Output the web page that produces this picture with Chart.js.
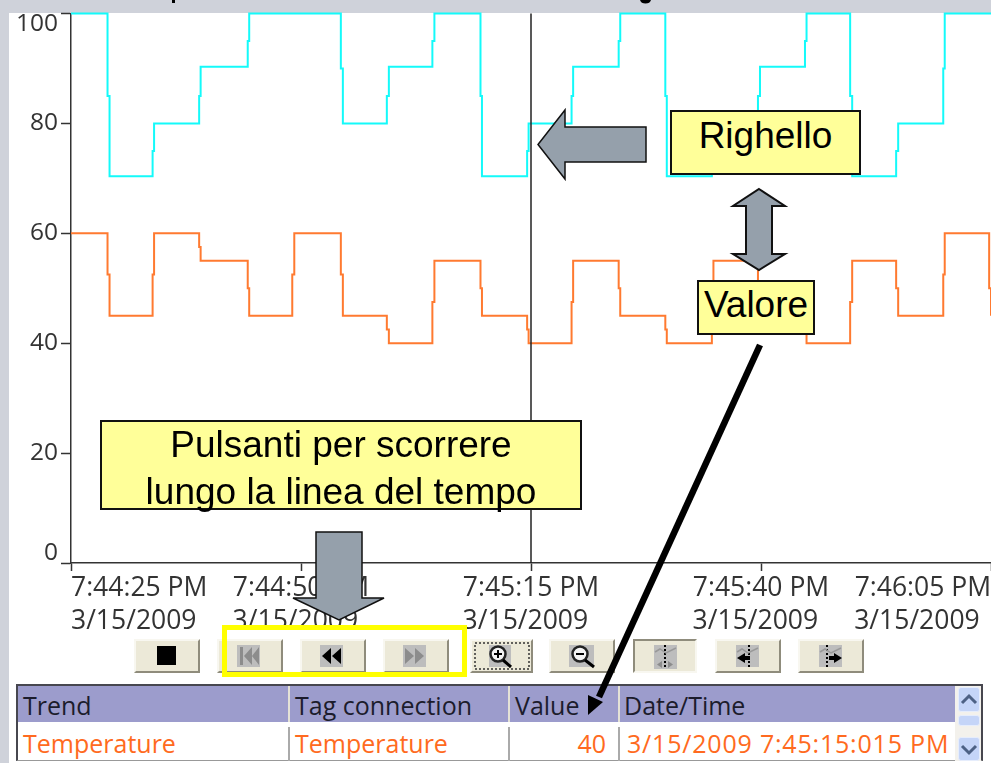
<!DOCTYPE html>
<html>
<head>
<meta charset="utf-8">
<title>Trend</title>
<script src="https://cdn.jsdelivr.net/npm/chart.js@4/dist/chart.umd.js"></script>
<style>
    html, body { margin: 0; padding: 0; }
    body { width: 991px; height: 763px; position: relative; overflow: hidden; background: #cfd2da; font-family: "Open Sans", sans-serif; }
    #panel { position: absolute; left: 9px; top: 13px; right: 0; bottom: 0; background: #fff; }
    #mychart { position: absolute; left: 0; top: 0; }
    .btn { position: absolute; top: 639px; height: 34px; box-sizing: border-box; background: #ece9d8;
           border: 2px solid; border-color: #f8f7f0 #8f8c7c #8f8c7c #f8f7f0; }
    .btn.down { border-color: #8f8c7c #f8f7f0 #f8f7f0 #8f8c7c; }
    #table { position: absolute; left: 16px; top: 684px; width: 967px; height: 77px; box-sizing: border-box;
             border: 2px solid #47474f; border-bottom: 1px solid #999; background: #fff; }
    #head { position: absolute; left: 0; top: 0; width: 937px; height: 36px; background: #9c9ccc; }
    .cell { position: absolute; font-size: 25px; line-height: 36px; white-space: nowrap; color: #1c1c2c; }
    .row { color: #ff6a20; top: 39px; }
    .sep { position: absolute; width: 2px; background: #e4e2d6; top: 0; height: 36px; }
    .sep.low { background: #aaa; top: 41px; height: 34px; }
    #scroll { position: absolute; left: 937px; top: 0; width: 26px; height: 75px; background: #f3f1ec; }
    .sb { position: absolute; left: 3px; width: 22px; background: #c5d5f8; border-radius: 3px; box-sizing: border-box; border: 1px solid #e6edfc; }
    .note { position: absolute; box-sizing: border-box; background: #ffff99; border: 2px solid #111;
            font-family: "Liberation Sans", Arial, sans-serif; font-size: 37px; color: #000; text-align: center; }
    #overlay { position: absolute; left: 0; top: 0; }
</style>
</head>
<body>
<div id="panel"></div>
<canvas id="mychart" width="991" height="763"></canvas>

<div id="table">
    <div id="head"></div>
    <div class="cell" style="left:5px;top:1px">Trend</div>
    <div class="cell" style="left:277px;top:1px">Tag connection</div>
    <div class="cell" style="left:497px;top:1px">Value</div>
    <div class="cell" style="left:606px;top:1px">Date/Time</div>
    <div class="sep" style="left:270px"></div>
    <div class="sep" style="left:490px"></div>
    <div class="sep" style="left:600px"></div>
    <div class="sep low" style="left:270px"></div>
    <div class="sep low" style="left:490px"></div>
    <div class="sep low" style="left:600px"></div>
    <div class="cell row" style="left:5px">Temperature</div>
    <div class="cell row" style="left:277px">Temperature</div>
    <div class="cell row" style="right:375px">40</div>
    <div class="cell row" style="left:609px;letter-spacing:0.8px">3/15/2009 7:45:15:015 PM</div>
    <div id="scroll">
        <div class="sb" style="top:1px;height:25px"></div>
        <div class="sb" style="top:29px;height:11px"></div>
        <div class="sb" style="top:51px;height:24px"></div>
    </div>
</div>

<div class="btn" style="left:134px;width:66px"></div>
<div class="btn" style="left:217px;width:66px"></div>
<div class="btn" style="left:300px;width:66px"></div>
<div class="btn" style="left:383px;width:66px"></div>
<div class="btn" style="left:470px;width:63px"></div>
<div class="btn" style="left:549px;width:66px"></div>
<div class="btn down" style="left:633px;width:64px"></div>
<div class="btn" style="left:715px;width:66px"></div>
<div class="btn" style="left:798px;width:66px"></div>

<svg id="overlay" width="991" height="763" viewBox="0 0 991 763">
    <!-- bits of the slide title cut off at the top -->
    <rect x="172" y="0" width="3" height="3" fill="#000"/>
    <path d="M640 0h11q-1 3.500-5.500 3.500t-5.500-3.500z" fill="#000"/>

    <!-- scroll arrows -->
    <path d="M962 703l7-7 7 7" fill="none" stroke="#4d6185" stroke-width="3"/>
    <path d="M962 746l7 7 7-7" fill="none" stroke="#4d6185" stroke-width="3"/>

    <!-- button icons -->
    <rect x="157" y="646" width="19" height="19" fill="#000"/>
    <rect x="237" y="645" width="23" height="22" fill="#bdbdbd"/>
    <path d="M240 647h3v18h-3zM252 647v18l-8-9zM259 647v18l-7-9z" fill="#8c8c8c"/>
    <rect x="320" y="645" width="23" height="22" fill="#bdbdbd"/>
    <path d="M331 648v16l-9-8zM341 648v16l-9-8z" fill="#000"/>
    <rect x="403" y="645" width="23" height="22" fill="#bdbdbd"/>
    <path d="M405 648v16l9 -8zM415 648v16l9-8z" fill="#8c8c8c"/>
    <rect x="475" y="643" width="54" height="26" fill="none" stroke="#333" stroke-width="1.500" stroke-dasharray="2 2"/>
    <rect x="489" y="645" width="22" height="22" fill="#bdbdbd"/>
    <circle cx="498" cy="654" r="7.500" fill="#f4f4f4" stroke="#222" stroke-width="2.500"/>
    <path d="M494 654h8M498 650v8" stroke="#000" stroke-width="2"/>
    <path d="M503 660l8 7" stroke="#000" stroke-width="3"/>
    <rect x="569" y="645" width="25" height="22" fill="#bdbdbd"/>
    <circle cx="580" cy="654" r="7.500" fill="#f4f4f4" stroke="#222" stroke-width="2.500"/>
    <path d="M576 654h8" stroke="#000" stroke-width="2"/>
    <path d="M585 660l9 7" stroke="#000" stroke-width="3"/>
    <rect x="654" y="645" width="23" height="24" fill="#bdbdbd"/>
    <path d="M665 645v24" stroke="#000" stroke-width="2" stroke-dasharray="2 2"/>
    <path d="M655 652l5-3 6 4 10-5" fill="none" stroke="#999" stroke-width="1.500"/>
    <path d="M662 661v7l-5-3.500zM668 661v7l5-3.500z" fill="#8c8c8c"/>
    <rect x="736" y="645" width="23" height="22" fill="#bdbdbd"/>
    <path d="M749 645v22" stroke="#000" stroke-width="2" stroke-dasharray="2 2"/>
    <path d="M737 652l5-3 6 4 10-5" fill="none" stroke="#999" stroke-width="1.500"/>
    <path d="M737 658l8-5v3h5v4h-5v3z" fill="#000"/>
    <rect x="819" y="645" width="23" height="22" fill="#bdbdbd"/>
    <path d="M827 645v22" stroke="#000" stroke-width="2" stroke-dasharray="2 2"/>
    <path d="M820 652l5-3 6 4 10-5" fill="none" stroke="#999" stroke-width="1.500"/>
    <path d="M842 658l-8-5v3h-5v4h5v3z" fill="#000"/>

    <!-- callout arrows -->
    <path d="M538 144.500L565 110V127H646V162H565V179z" fill="#95a0ab" stroke="#111" stroke-width="1.500"/>
    <path d="M759 189L785 206H772V254H785L759 270L733 254H746V206H733z" fill="#95a0ab" stroke="#111" stroke-width="2"/>
    <path d="M316 532H362V598H384L339 620L293 598H316z" fill="#95a0ab" stroke="#111" stroke-width="1.500"/>
    <path d="M760 345L599 697" stroke="#000" stroke-width="6.500" fill="none"/>
    <path d="M588 715L588 695L603 702z" fill="#000"/>
    <rect x="224.500" y="627.500" width="240" height="47" fill="none" stroke="#ffff00" stroke-width="5"/>
</svg>

<div class="note" style="left:670px;top:110px;width:191px;height:65px;line-height:48px">Righello</div>
<div class="note" style="left:697px;top:280px;width:118px;height:55px;line-height:46px">Valore</div>
<div class="note" style="left:100px;top:420px;width:482px;height:90px;line-height:46.5px">Pulsanti per scorrere<br>lungo la linea del tempo</div>

<script>
"use strict";
//seconds after 7:44:25 PM where the trend values change
const TIMES = [
    0, 3.97, 4.19, 8.87, 9.03, 13.93, 14.09, 19.21, 19.37, 24.05, 24.27,
    29.33, 29.55, 34.33, 34.55, 39.28, 39.5, 44.51, 44.67, 49.58, 49.74,
    54.41, 54.58, 59.53, 59.7, 64.6, 64.76, 69.66, 69.83, 74.67, 74.89,
    79.78, 79.95, 84.69, 84.91, 89.69, 89.91, 94.81, 94.97, 99.8, 100
];
const CYAN_VALUES = [
    100, 85, 70.4, 75, 80, 85, 90.3, 95, 100, 100, 100,
    90, 80, 85, 90.3, 95, 100, 85, 70.4, 75, 80,
    85, 90.3, 95, 100, 85, 70.4, 75, 80, 85, 90.3,
    95, 100, 85, 70.4, 75, 80, 90, 100, 100, 100
];
const ORANGE_VALUES = [
    60, 52.5, 45, 52.5, 60, 57.5, 55, 50, 45, 52.5, 60,
    52.5, 45, 42.5, 40, 47.5, 55, 50, 45, 42.5, 40,
    47.5, 55, 50, 45, 42.5, 40, 47.5, 55, 50, 45,
    42.5, 40, 47.5, 55, 50, 45, 52.5, 60, 50, 45
];
const RULER_TIME = 50;
const X_TICK_TIMES = [0, 25, 50, 75, 100];
const X_TICK_HOURS = ["7:44:25 PM", "7:44:50 PM", "7:45:15 PM", "7:45:40 PM", "7:46:05 PM"];
const X_TICK_DATE = "3/15/2009";
const Y_TICK_LABELS = {0: ["0", ""], 20: "20", 40: "40", 60: "60", 80: "80", 100: ["", "100"]};

const AXIS_COLOR = "#333";
const toPoints = values => values.map((v, i) => ({x: TIMES[i], y: v}));

new Chart(document.getElementById("mychart"), {
    type: "line",
    data: {
        datasets: [
            {data: [{x: RULER_TIME, y: 0}, {x: RULER_TIME, y: 100}], borderColor: "#222", borderWidth: 1.5, pointRadius: 0},
            {label: "Temperature", data: toPoints(ORANGE_VALUES), borderColor: "#ff7a30", borderWidth: 2, pointRadius: 0, stepped: true},
            {data: toPoints(CYAN_VALUES), borderColor: "#14fafa", borderWidth: 2, pointRadius: 0, stepped: true}
        ]
    },
    options: {
        responsive: false,
        animation: false,
        clip: false,
        layout: {padding: {top: 13.5}},
        plugins: {legend: {display: false}, tooltip: {enabled: false}},
        scales: {
            x: {
                type: "linear", min: 0, max: 100,
                afterFit: scale => { scale.height = 200; scale.paddingLeft = 0; scale.paddingRight = 0; },
                border: {color: AXIS_COLOR, width: 1.5},
                grid: {drawOnChartArea: false, tickLength: 8, tickColor: AXIS_COLOR, tickWidth: 1.5},
                ticks: {
                    stepSize: 25, align: "inner", maxRotation: 0, autoSkip: false, padding: 1,
                    color: "#333",
                    font: {family: "Open Sans", size: 26.5, lineHeight: 1.25},
                    //trailing spaces keep the date flush left under the time
                    callback: value => [X_TICK_HOURS[X_TICK_TIMES.indexOf(value)], X_TICK_DATE + " \u2009"]
                }
            },
            //minor ticks only
            xMinor: {
                type: "linear", position: "bottom", min: 0, max: 100,
                afterFit: scale => { scale.height = 0; },
                border: {display: false},
                grid: {drawOnChartArea: false, tickLength: 4, tickColor: AXIS_COLOR, tickWidth: 1.5},
                ticks: {stepSize: 5, display: false}
            },
            y: {
                min: 0, max: 100,
                afterFit: scale => { scale.width = 71; scale.paddingTop = 0; scale.paddingBottom = 0; },
                border: {color: AXIS_COLOR, width: 1.5},
                grid: {drawOnChartArea: false, tickLength: 10, tickColor: AXIS_COLOR, tickWidth: 1.5},
                ticks: {
                    stepSize: 20, padding: 3,
                    color: "#333",
                    font: {family: "Open Sans", size: 24.5, lineHeight: 0.85},
                    callback: value => Y_TICK_LABELS[value]
                }
            },
            yMinor: {
                position: "left", min: 0, max: 100,
                afterFit: scale => { scale.width = 0; },
                border: {display: false},
                grid: {drawOnChartArea: false, tickLength: 4, tickColor: AXIS_COLOR, tickWidth: 1.5},
                ticks: {stepSize: 5, display: false}
            }
        }
    }
});
</script>
</body>
</html>
